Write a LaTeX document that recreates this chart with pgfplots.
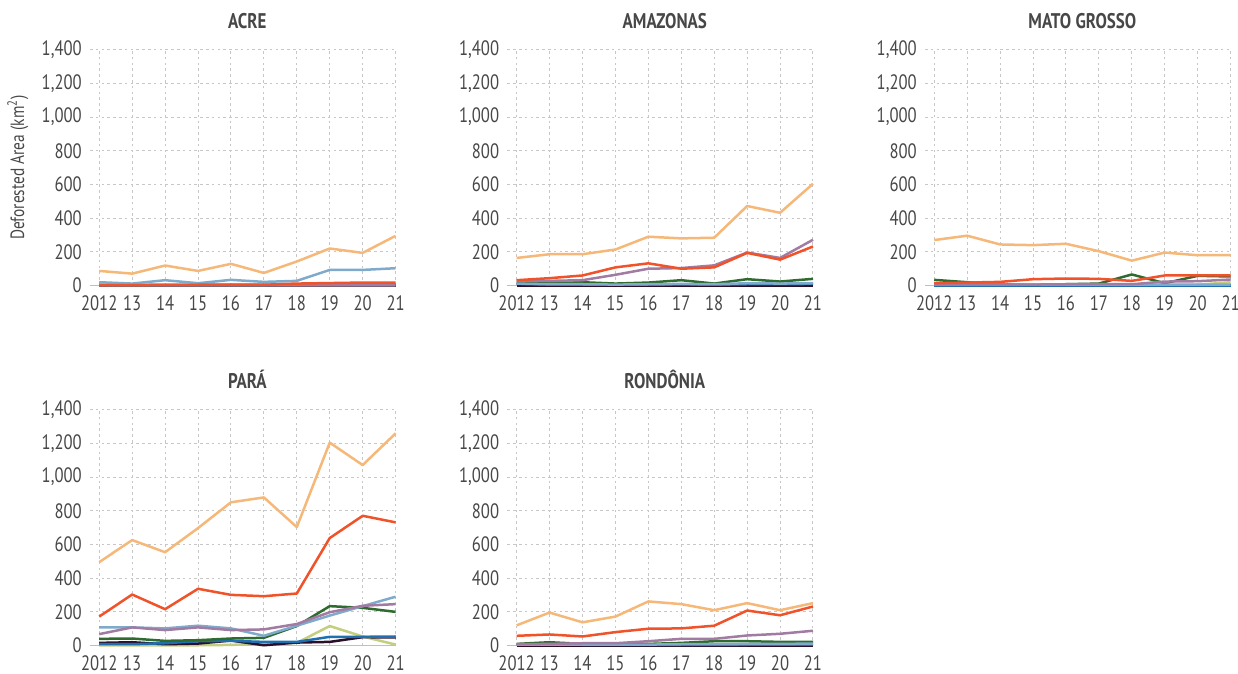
\documentclass[border=0pt]{standalone}
\usepackage{fontspec}
\setmainfont{PT Sans}[FakeStretch=0.8]
\usepackage{pgfplots}
\usepackage{pgfplotstable}
\pgfplotsset{compat=1.18}

\definecolor{cOr}{HTML}{F6B878}
\definecolor{cRd}{HTML}{F0522A}
\definecolor{cPu}{HTML}{A27BA3}
\definecolor{cLb}{HTML}{7FAACB}
\definecolor{cDg}{HTML}{2F6B2F}
\definecolor{cYg}{HTML}{C3CE7E}
\definecolor{cBl}{HTML}{2070B0}
\definecolor{cBk}{HTML}{2B0F2A}
\definecolor{txt}{HTML}{474747}

% year, yellow-green, black, blue, dark green, light blue, purple, red, orange
\pgfplotstableread{
year yg bk bl dg lb pu rd or
2012 0 1 4 2 20 1 3 87
2013 0 1 4 2 12 1 3 71
2014 0 1 4 2 32 1 4 119
2015 0 1 4 2 14 1 5 87
2016 0 1 5 2 34 1 6 129
2017 0 1 4 2 22 1 5 75
2018 0 1 5 3 28 2 12 143
2019 0 1 6 3 93 2 15 220
2020 0 1 6 3 93 2 18 194
2021 0 1 6 3 103 2 17 295
}\acre
\pgfplotstableread{
year yg bk bl dg lb pu rd or
2012 1 1 10 18 12 28 32 164
2013 1 1 6 14 8 28 44 186
2014 1 1 5 20 8 32 60 186
2015 1 1 5 12 6 64 108 214
2016 1 1 5 18 8 100 132 290
2017 1 1 8 32 10 104 100 280
2018 1 1 5 12 8 120 108 284
2019 1 1 8 38 14 196 194 472
2020 1 1 8 24 12 164 154 432
2021 1 1 10 40 14 272 232 604
}\amazonas
\pgfplotstableread{
year yg bk bl dg lb pu rd or
2012 1 1 2 34 5 5 14 270
2013 1 1 2 20 5 5 18 296
2014 1 1 2 8 5 6 22 244
2015 1 1 2 4 5 6 38 240
2016 1 1 2 8 5 8 42 248
2017 1 1 2 12 5 8 40 204
2018 2 1 2 66 6 8 28 148
2019 3 1 2 14 6 24 60 196
2020 5 1 2 58 6 26 60 180
2021 20 1 2 54 6 36 60 180
}\matogrosso
\pgfplotstableread{
year yg bk bl dg lb pu rd or
2012 2 16 8 40 108 68 172 495
2013 2 20 8 42 108 108 303 626
2014 2 8 14 28 102 92 216 554
2015 2 12 26 32 118 108 337 697
2016 4 30 28 42 102 92 301 850
2017 12 2 22 46 58 96 293 879
2018 16 18 22 116 118 128 309 703
2019 116 22 52 234 178 198 638 1204
2020 54 50 52 224 234 236 770 1071
2021 6 48 54 200 290 246 731 1259
}\para
\pgfplotstableread{
year yg bk bl dg lb pu rd or
2012 1 1 5 10 5 8 58 120
2013 1 1 8 20 6 10 66 196
2014 1 1 5 10 6 14 54 138
2015 1 1 5 10 6 14 80 172
2016 1 1 5 10 6 26 100 262
2017 1 1 5 16 8 40 102 246
2018 1 1 4 26 8 40 118 210
2019 1 1 5 26 10 60 208 252
2020 1 1 6 22 10 70 180 210
2021 1 1 5 22 12 88 232 252
}\rondonia

\pgfplotsset{
  panel/.style={
    scale only axis, width=152.8pt, height=118pt,
    xmin=2011.72, xmax=2021, ymin=0, ymax=1400,
    xtick={2012,...,2021},
    xticklabels={2012,13,14,15,16,17,18,19,20,21},
    ytick={0,200,...,1400},
    /pgf/number format/.cd, 1000 sep={,}, assume math mode=true, /pgfplots/.cd,
    major tick length=0pt,
    axis lines*=left,
    y axis line style={draw=none},
    x axis line style={draw=black!25, line width=0.6pt, -},
    grid=major,
    major grid style={draw=black!22, line width=0.5pt, dash pattern=on 1.3pt off 1.6pt},
    tick label style={font=\fontsize{10.4}{11}\selectfont, text=txt},
    xticklabel style={yshift=-1.3pt},
    yticklabel style={xshift=-0.6pt},
    % the default title style already shifts by 6pt
    title style={at={(0.515,1)}, anchor=base, yshift=4.3pt,
      font=\fontsize{10.6}{11}\selectfont\bfseries, text=txt},
    every axis plot/.append style={line width=1.25pt, no marks, line join=round},
    clip=false,
  },
}
\newcommand\stateplots[1]{%
  \addplot[cYg] table[x=year,y=yg]{#1};
  \addplot[cBk] table[x=year,y=bk]{#1};
  \addplot[cBl] table[x=year,y=bl]{#1};
  \addplot[cDg] table[x=year,y=dg]{#1};
  \addplot[cLb] table[x=year,y=lb]{#1};
  \addplot[cPu] table[x=year,y=pu]{#1};
  \addplot[cRd] table[x=year,y=rd]{#1};
  \addplot[cOr] table[x=year,y=or]{#1};
}

\begin{document}
\begin{tikzpicture}
\useasboundingbox (0,0) rectangle (619pt,337pt);
\begin{axis}[panel, at={(45pt,194.2pt)}, title={ACRE},
  ylabel={Deforested Area (km\textsuperscript{2})},
  ylabel style={at={(axis description cs:-0.236,0.5)}, anchor=center,
    font=\fontsize{9.6}{10}\selectfont, text=txt}]
\stateplots{\acre}
\end{axis}
\begin{axis}[panel, at={(253.7pt,194.2pt)}, title={AMAZONAS}]
\stateplots{\amazonas}
\end{axis}
\begin{axis}[panel, at={(462.5pt,194.2pt)}, title={MATO GROSSO}]
\stateplots{\matogrosso}
\end{axis}
\begin{axis}[panel, at={(45pt,14.2pt)}, title={PARÁ}]
\stateplots{\para}
\end{axis}
\begin{axis}[panel, at={(253.7pt,14.2pt)}, title={RONDÔNIA}]
\stateplots{\rondonia}
\end{axis}
\end{tikzpicture}
\end{document}
